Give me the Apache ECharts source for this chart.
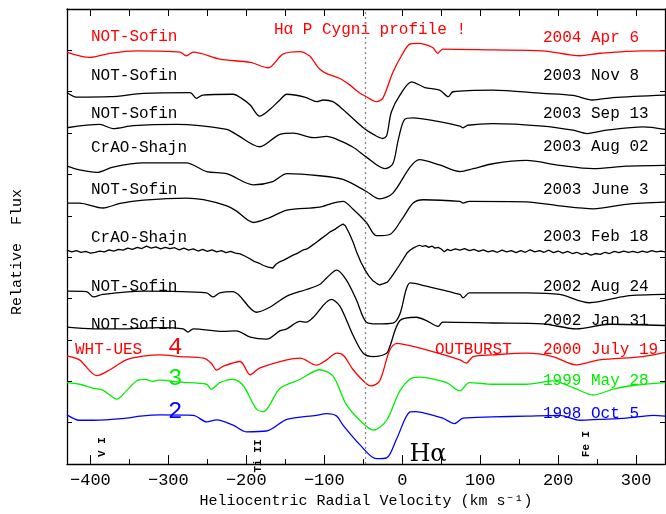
<!DOCTYPE html>
<html><head><meta charset="utf-8">
<script src="https://cdn.jsdelivr.net/npm/echarts@6/dist/echarts.min.js"></script>
<style>html,body{margin:0;padding:0;background:#fff}#c{width:666px;height:514px}</style>
</head><body><div id="c"></div>
<script>
// ---- data: [velocity km/s, relative flux (offset)] ----
const apr2004 = [[-430,9.95],[-401,9.83],[-375,9.93],[-341,9.99],[-285,9.96],[-277,9.87],[-268,9.96],[-234,9.79],[-195,9.71],[-172,9.58],[-153,9.91],[-131,9.97],[-119,9.87],[-114,9.75],[-106,9.55],[-97,9.44],[-80,9.32],[-67,9.16],[-54.5,8.97],[-46,8.88],[-33,8.76],[-25,8.84],[-12,9.47],[-1,9.87],[9.6,10.15],[20,10.17],[39,10.07],[45.5,9.93],[52,10.03],[116,10.01],[180,9.99],[228,9.87],[253,9.93],[308,9.99],[337,9.99]];
const nov2003 = [[-430,8.98],[-418,8.87],[-375,8.88],[-332,8.96],[-272,8.98],[-264,8.84],[-256,8.92],[-217,8.94],[-206,8.84],[-195,8.68],[-183,8.41],[-170,8.57],[-157,8.80],[-148,8.94],[-123,8.86],[-110,8.76],[-101,8.80],[-89,8.76],[-76,8.57],[-50,8.13],[-37,7.97],[-25,7.87],[-20,7.94],[-14,8.51],[-3,8.92],[12,9.24],[29,9.10],[48,9.04],[59,8.88],[65,9.00],[116,9.04],[180,8.96],[219,8.91],[244,8.80],[270,8.86],[337,8.92]];
const sep2003 = [[-430,8.13],[-388,8.21],[-371,8.11],[-345,8.18],[-289,8.21],[-225,8.09],[-213,7.97],[-183,7.67],[-157,7.97],[-140,8.00],[-114,7.89],[-97,7.92],[-84,7.85],[-63,7.66],[-46,7.42],[-22,7.14],[-12,7.26],[-5,7.85],[3,8.33],[14,8.37],[44,8.29],[74,8.17],[78,8.13],[84,8.19],[116,8.23],[180,8.17],[219,8.07],[237,7.99],[262,8.07],[309,8.15],[337,8.09]];
const aug2003 = [[-430,7.20],[-414,7.11],[-392,7.05],[-371,7.18],[-332,7.28],[-277,7.28],[-251,7.07],[-225,7.02],[-191,6.75],[-166,6.83],[-148,7.02],[-106,6.97],[-76,6.88],[-46,6.59],[-29,6.41],[-12,6.55],[10,7.18],[22,7.36],[48,7.23],[74,7.07],[91,7.14],[116,7.26],[159,7.34],[202,7.22],[245,7.14],[287,7.20],[337,7.22]];
const jun2003 = [[-430,6.31],[-414,6.31],[-384,6.19],[-362,6.30],[-332,6.38],[-277,6.43],[-255,6.39],[-225,6.24],[-213,6.12],[-191,5.84],[-170,5.96],[-148,6.14],[-106,6.21],[-89,6.31],[-76,6.35],[-63,6.16],[-46,5.84],[-33,5.52],[-16,5.55],[1,5.96],[14,6.31],[27,6.39],[74,6.35],[78,6.31],[86,6.35],[159,6.34],[202,6.24],[245,6.17],[287,6.28],[337,6.33]];
const feb2003 = [[-430,5.17],[-424,5.13],[-418,5.16],[-412,5.12],[-406,5.14],[-400,5.10],[-394,5.12],[-388,5.15],[-382,5.13],[-376,5.18],[-370,5.15],[-364,5.19],[-358,5.17],[-352,5.22],[-346,5.19],[-340,5.24],[-334,5.21],[-328,5.27],[-322,5.22],[-316,5.25],[-310,5.20],[-304,5.24],[-298,5.21],[-292,5.23],[-286,5.18],[-280,5.22],[-274,5.17],[-268,5.20],[-262,5.15],[-256,5.19],[-250,5.14],[-244,5.18],[-238,5.13],[-232,5.16],[-226,5.11],[-220,5.14],[-214,5.10],[-208,5.08],[-202,5.03],[-196,4.97],[-190,4.90],[-184,4.86],[-178,4.80],[-172,4.76],[-166,4.74],[-162,4.83],[-158,4.88],[-152,4.93],[-146,4.99],[-140,5.05],[-134,5.10],[-128,5.17],[-122,5.20],[-116,5.28],[-110,5.36],[-104,5.45],[-98,5.53],[-92,5.62],[-86,5.68],[-80,5.76],[-76,5.80],[-73,5.76],[-68,5.58],[-63,5.36],[-58,5.10],[-53,4.88],[-48,4.70],[-43,4.55],[-38,4.44],[-33,4.37],[-29,4.33],[-24,4.36],[-19,4.40],[-14,4.52],[-9,4.66],[-4,4.80],[1,4.95],[6,5.10],[10,5.17],[14,5.22],[18,5.26],[22,5.29],[26,5.26],[30,5.28],[34,5.24],[38,5.27],[42,5.22],[46,5.24],[50,5.20],[54,5.13],[58,5.19],[62,5.16],[68,5.20],[74,5.17],[80,5.21],[86,5.16],[92,5.19],[98,5.14],[104,5.18],[110,5.13],[116,5.16],[122,5.12],[128,5.17],[134,5.13],[140,5.16],[146,5.11],[152,5.16],[158,5.12],[164,5.18],[170,5.13],[176,5.16],[182,5.12],[188,5.17],[194,5.11],[200,5.15],[206,5.10],[212,5.14],[218,5.09],[224,5.12],[230,5.07],[236,5.10],[242,5.05],[248,5.09],[254,5.07],[260,5.12],[266,5.09],[272,5.14],[278,5.11],[284,5.15],[290,5.12],[296,5.14],[302,5.11],[308,5.15],[314,5.12],[320,5.16],[326,5.13],[332,5.15],[337,5.13]];
const aug2002 = [[-430,4.18],[-405,4.17],[-396,4.04],[-384,4.10],[-332,4.18],[-251,4.14],[-243,4.04],[-234,4.14],[-217,4.17],[-187,3.67],[-170,3.79],[-148,4.06],[-123,4.22],[-106,4.34],[-97,4.50],[-84,4.69],[-72,4.46],[-59,3.98],[-46,3.43],[-33,3.39],[-12,3.41],[-3,3.63],[5,4.22],[10,4.38],[31,4.30],[74,4.10],[78,4.02],[86,4.14],[159,4.14],[202,4.10],[240,3.90],[287,4.06],[337,4.10]];
const jan2002 = [[-430,3.31],[-396,3.27],[-354,3.27],[-311,3.30],[-281,3.27],[-275,3.19],[-268,3.27],[-230,3.21],[-213,3.22],[-195,3.07],[-174,3.02],[-157,3.22],[-148,3.27],[-131,3.45],[-123,3.43],[-114,3.55],[-91,3.98],[-80,3.82],[-63,3.11],[-50,2.68],[-37,2.60],[-20,2.68],[-16,2.84],[-3,3.47],[18,3.55],[31,3.47],[46,3.33],[52,3.43],[116,3.41],[180,3.39],[223,3.27],[266,3.38],[337,3.35]];
const jul2000 = [[-430,2.61],[-414,2.52],[-392,2.14],[-375,2.28],[-354,2.52],[-332,2.61],[-311,2.64],[-285,2.60],[-255,2.56],[-245,2.44],[-238,2.27],[-230,2.36],[-208,2.48],[-195,2.16],[-183,2.32],[-148,2.52],[-131,2.56],[-110,2.39],[-97,2.52],[-84,2.68],[-75,2.62],[-63,2.28],[-46,1.94],[-40,1.89],[-29,2.01],[-16,2.76],[-7,2.92],[5,2.88],[31,2.76],[74,2.52],[82,2.44],[91,2.60],[116,2.64],[159,2.68],[193,2.60],[223,2.40],[253,2.52],[309,2.60],[337,2.70]];
const may1999 = [[-430,1.97],[-414,1.93],[-396,1.83],[-384,1.79],[-366,1.57],[-354,1.77],[-340,2.02],[-330,2.05],[-320,2.00],[-311,2.03],[-285,1.98],[-251,1.93],[-245,1.81],[-234,1.97],[-217,2.05],[-204,1.90],[-187,1.33],[-178,1.27],[-157,1.83],[-131,2.05],[-106,2.28],[-89,2.13],[-72,1.45],[-54.5,1.06],[-37,0.82],[-20,1.06],[-3,1.77],[14,2.09],[22,2.10],[31,2.09],[57,1.97],[74,1.77],[86,1.97],[116,1.93],[159,1.93],[193,2.01],[219,1.85],[245,1.67],[270,1.81],[296,1.90],[337,1.97]];
const oct1998 = [[-430,1.19],[-414,1.06],[-396,1.06],[-354,1.11],[-336,1.16],[-311,1.19],[-268,1.18],[-251,1.02],[-238,1.07],[-217,0.94],[-200,0.78],[-174,0.80],[-148,1.08],[-110,1.18],[-97,1.22],[-84,1.16],[-76,0.94],[-54.5,0.47],[-33,0.13],[-20,0.15],[-7,0.62],[10,1.26],[18,1.27],[31,1.22],[52,1.11],[67,0.98],[78,1.11],[116,1.14],[159,1.16],[202,1.18],[228,1.06],[253,1.08],[287,1.11],[322,1.18],[337,1.16]];

const majorTicks = [-400,-300,-200,-100,0,100,200,300];
const minorTicks = [-400,-350,-300,-250,-200,-150,-100,-50,0,50,100,150,200,250,300];
const restVelocity = -47;

const leftLabels  = ['NOT-Sofin','NOT-Sofin','NOT-Sofin','CrAO-Shajn','NOT-Sofin','CrAO-Shajn','NOT-Sofin','NOT-Sofin','WHT-UES','3','2'];
const rightLabels = ['2004 Apr 6','2003 Nov 8','2003 Sep 13','2003 Aug 02','2003 June 3','2003 Feb 18','2002 Aug 24','2002 Jan 31','2000 July 19','1999 May 28','1998 Oct 5'];

const RED='#ff0000', BLK='#000000', GRN='#00ee00', BLU='#0000ff';
const spectra = [
  {d:apr2004,c:RED},{d:nov2003,c:BLK},{d:sep2003,c:BLK},{d:aug2003,c:BLK},{d:jun2003,c:BLK},
  {d:feb2003,c:BLK,raw:true},{d:aug2002,c:BLK},{d:jan2002,c:BLK},{d:jul2000,c:RED},{d:may1999,c:GRN},{d:oct1998,c:BLU}
];
const labelY = [37,76,114,148,190,238,287,325,350,379,412];
const rLabelY = [38,76,114,147,190,237,287,321,350,381,414];

const FONT = '"Liberation Mono", monospace';
const chart = echarts.init(document.getElementById('c'));
const series = spectra.map((s,i)=>({
  type:'line', data:s.d, xAxisIndex:0, yAxisIndex:0, symbol:'none', smooth: s.raw?false:0.3,
  lineStyle:{color:s.c,width:1.3}, silent:true, animation:false,
  markLine: i===0 ? {symbol:'none', silent:true, label:{show:false},
     lineStyle:{type:[2,3], color:'#888', width:1.3}, data:[{xAxis:restVelocity}]} : undefined
}));

const g = [];
leftLabels.forEach((t,i)=>{
  let x=91, fill=spectra[i].c, size=16;
  if(i===8){x=75;}
  if(i===9||i===10){x=168; size=24;}
  g.push({type:'text', x, y:labelY[i], style:{text:t, fill, font:`${size}px ${FONT}`, verticalAlign:'middle'}});
});
g.push({type:'text', x:168, y:348, style:{text:'4', fill:RED, font:`24px ${FONT}`, verticalAlign:'middle'}});
rightLabels.forEach((t,i)=>{
  g.push({type:'text', x:543, y:rLabelY[i], style:{text:t, fill:spectra[i].c, font:`16px ${FONT}`, verticalAlign:'middle'}});
});
g.push({type:'text', x:435, y:350, style:{text:'OUTBURST', fill:RED, font:`16px ${FONT}`, verticalAlign:'middle'}});
g.push({type:'text', x:370, y:30, style:{text:'Hα P Cygni profile !', fill:RED, font:`16px ${FONT}`, align:'center', verticalAlign:'middle'}});
g.push({type:'text', x:428, y:455, style:{text:'Hα', fill:BLK, font:`24px "DejaVu Serif", serif`, align:'center', verticalAlign:'middle'}});
g.push({type:'text', x:17, y:252, rotation:Math.PI/2, style:{text:'Relative  Flux', fill:BLK, font:`15px ${FONT}`, align:'center', verticalAlign:'middle'}});
[['V I',102,447],['Ti II',258,456],['Fe I',586,444]].forEach(([t,x,y])=>{
  g.push({type:'text', x, y, rotation:Math.PI/2, style:{text:t, fill:BLK, font:`bold 11px ${FONT}`, align:'center', verticalAlign:'middle'}});
});

const baseX = {type:'value', min:-430, max:337, splitLine:{show:false}};
chart.setOption({
  animation:false,
  backgroundColor:'#fff',
  grid:{left:67, right:1, top:9, bottom:41},
  xAxis:[
    Object.assign({}, baseX, {position:'bottom',
      axisLine:{onZero:false,lineStyle:{color:'#000',width:1.3}},
      axisTick:{inside:true,length:9,customValues:majorTicks,lineStyle:{color:'#000'}},
      axisLabel:{customValues:majorTicks,color:'#000',fontSize:17,fontFamily:FONT,margin:8,
        formatter:v=>String(v).replace('-','−')},
      name:'Heliocentric Radial Velocity (km s⁻¹)', nameLocation:'middle', nameGap:29,
      nameTextStyle:{color:'#000',fontSize:15,fontFamily:FONT}}),
    Object.assign({}, baseX, {position:'bottom', axisLine:{show:false,onZero:false},
      axisTick:{inside:true,length:5,customValues:minorTicks,lineStyle:{color:'#000'}},
      axisLabel:{show:false}}),
    Object.assign({}, baseX, {position:'top', axisLine:{onZero:false,lineStyle:{color:'#000',width:1.3}},
      axisTick:{inside:true,length:7,customValues:minorTicks,lineStyle:{color:'#000'}},
      axisLabel:{show:false}})
  ],
  yAxis:[
    {type:'value', min:0, max:11, interval:1, position:'left', splitLine:{show:false},
     axisLine:{show:true,onZero:false,lineStyle:{color:'#000',width:1.3}},
     axisTick:{inside:true,length:5,lineStyle:{color:'#000'}}, axisLabel:{show:false}},
    {type:'value', min:0, max:11, interval:1, position:'right', splitLine:{show:false},
     axisLine:{show:true,onZero:false,lineStyle:{color:'#000',width:1.3}},
     axisTick:{inside:true,length:5,lineStyle:{color:'#000'}}, axisLabel:{show:false}}
  ],
  series,
  graphic:g
});
</script></body></html>
